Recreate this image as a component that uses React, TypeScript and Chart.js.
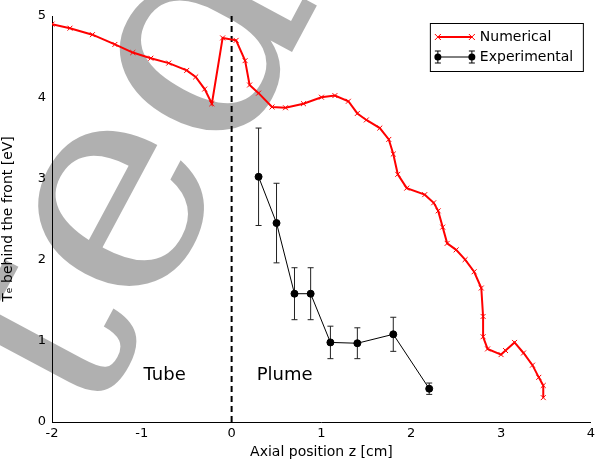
import React, { useEffect, useRef } from "react";
import { Chart, registerables } from "chart.js";
Chart.register(...registerables);

const numX = [-2, -1.8, -1.55, -1.3, -1.1, -0.9, -0.7, -0.5, -0.4, -0.3, -0.22, -0.1, 0.05, 0.15, 0.2, 0.3, 0.45, 0.6, 0.8, 1.0, 1.15, 1.3, 1.4, 1.5, 1.65, 1.75, 1.8, 1.85, 1.95, 2.15, 2.25, 2.3, 2.35, 2.4, 2.5, 2.6, 2.7, 2.78, 2.8, 2.8, 2.85, 3.0, 3.05, 3.15, 3.25, 3.35, 3.42, 3.47, 3.47];
const numY = [4.9, 4.85, 4.77, 4.65, 4.55, 4.48, 4.42, 4.33, 4.25, 4.1, 3.92, 4.73, 4.7, 4.45, 4.15, 4.05, 3.88, 3.87, 3.92, 4.0, 4.02, 3.95, 3.8, 3.72, 3.62, 3.48, 3.3, 3.05, 2.88, 2.8, 2.7, 2.6, 2.4, 2.2, 2.12, 2.0, 1.85, 1.65, 1.3, 1.05, 0.9, 0.83, 0.88, 0.98, 0.85, 0.7, 0.55, 0.45, 0.3];
const expX = [0.3, 0.5, 0.7, 0.88, 1.1, 1.4, 1.8, 2.2];
const expY = [3.02, 2.45, 1.58, 1.58, 0.98, 0.97, 1.08, 0.41];
const expErr = [0.6, 0.49, 0.32, 0.32, 0.2, 0.19, 0.21, 0.07];
const legendLabels = ["Numerical", "Experimental"];

const FONT = "'DejaVu Sans', sans-serif";

export default function App() {
  const ref = useRef<HTMLCanvasElement>(null);
  useEffect(() => {
    document.body.style.margin = "0";
    const extras = {
      id: "extras",
      beforeDraw(chart: any) {
        const { ctx } = chart;
        ctx.save();
        ctx.fillStyle = "rgba(150,150,150,0.75)";
        ctx.font = "300px 'DejaVu Serif', serif";
        ctx.translate(90, 430);
        ctx.rotate(-1.08);
        ctx.fillText("ted M", 0, 0);
        ctx.restore();
      },
      beforeDatasetsDraw(chart: any) {
        const { ctx, scales, chartArea } = chart;
        const x = scales.x, y = scales.y;
        ctx.save();
        ctx.strokeStyle = "#000";
        ctx.lineWidth = 2;
        ctx.setLineDash([6, 4]);
        ctx.beginPath();
        ctx.moveTo(x.getPixelForValue(0), chartArea.top);
        ctx.lineTo(x.getPixelForValue(0), chartArea.bottom);
        ctx.stroke();
        ctx.setLineDash([]);
        ctx.strokeStyle = "#222";
        ctx.lineWidth = 1;
        expX.forEach((xv, i) => {
          const px = x.getPixelForValue(xv);
          const t = y.getPixelForValue(expY[i] + expErr[i]);
          const b = y.getPixelForValue(expY[i] - expErr[i]);
          ctx.beginPath();
          ctx.moveTo(px, t); ctx.lineTo(px, b);
          ctx.moveTo(px - 3, t); ctx.lineTo(px + 3, t);
          ctx.moveTo(px - 3, b); ctx.lineTo(px + 3, b);
          ctx.stroke();
        });
        ctx.fillStyle = "#000";
        ctx.font = `18px ${FONT}`;
        ctx.textBaseline = "middle";
        ctx.fillText("Tube", x.getPixelForValue(-0.98), y.getPixelForValue(0.57));
        ctx.fillText("Plume", x.getPixelForValue(0.28), y.getPixelForValue(0.57));
        ctx.restore();
      },
      afterDatasetsDraw(chart: any) {
        const { ctx, chartArea } = chart;
        ctx.save();
        const bx = chartArea.right - 161, by = chartArea.top + 7, bw = 153, bh = 48;
        ctx.fillStyle = "#fff";
        ctx.strokeStyle = "#000";
        ctx.lineWidth = 1;
        ctx.fillRect(bx, by, bw, bh);
        ctx.strokeRect(bx + 0.5, by + 0.5, bw, bh);
        ctx.font = `14px ${FONT}`;
        ctx.textBaseline = "middle";
        ctx.fillStyle = "#000";
        let yy = by + 14;
        ctx.strokeStyle = "#f00"; ctx.lineWidth = 2;
        ctx.beginPath(); ctx.moveTo(bx + 8, yy); ctx.lineTo(bx + 42, yy); ctx.stroke();
        ctx.lineWidth = 1;
        [bx + 8, bx + 42].forEach((cx) => {
          ctx.beginPath();
          ctx.moveTo(cx - 3, yy - 3); ctx.lineTo(cx + 3, yy + 3);
          ctx.moveTo(cx - 3, yy + 3); ctx.lineTo(cx + 3, yy - 3);
          ctx.stroke();
        });
        ctx.fillText(legendLabels[0], bx + 50, yy);
        yy = by + 34;
        ctx.strokeStyle = "#000"; ctx.fillStyle = "#000";
        ctx.beginPath(); ctx.moveTo(bx + 8, yy); ctx.lineTo(bx + 42, yy); ctx.stroke();
        [bx + 8, bx + 42].forEach((cx) => {
          ctx.beginPath(); ctx.arc(cx, yy, 3.5, 0, Math.PI * 2); ctx.fill();
          ctx.beginPath();
          ctx.moveTo(cx, yy - 6); ctx.lineTo(cx, yy + 6);
          ctx.moveTo(cx - 3, yy - 6); ctx.lineTo(cx + 3, yy - 6);
          ctx.moveTo(cx - 3, yy + 6); ctx.lineTo(cx + 3, yy + 6);
          ctx.stroke();
        });
        ctx.fillText(legendLabels[1], bx + 50, yy);
        ctx.restore();
      },
    };
    const chart = new Chart(ref.current!, {
      type: "scatter",
      data: {
        datasets: [
          {
            label: "Numerical",
            data: numX.map((v, i) => ({ x: v, y: numY[i] })),
            showLine: true,
            borderColor: "#ff0000",
            backgroundColor: "#ff0000",
            borderWidth: 2,
            pointStyle: "crossRot",
            pointRadius: 3.5,
            pointBorderWidth: 1,
          },
          {
            label: "Experimental",
            data: expX.map((v, i) => ({ x: v, y: expY[i] })),
            showLine: true,
            borderColor: "#000",
            backgroundColor: "#000",
            borderWidth: 1,
            pointStyle: "circle",
            pointRadius: 3.5,
          },
        ],
      },
      options: {
        animation: false,
        responsive: false,
        layout: { padding: { right: 2, top: 16, left: 0, bottom: 0 } },
        plugins: { tooltip: { enabled: false }, legend: { display: false } },
        scales: {
          x: {
            type: "linear",
            min: -2, max: 4,
            afterFit: (s: any) => { s.height = 39; },
            ticks: { stepSize: 1, font: { family: FONT, size: 13 }, color: "#000", padding: 4 },
            grid: { display: false, drawTicks: false },
            border: { color: "#000" },
            title: { display: true, text: "Axial position z [cm]", font: { family: FONT, size: 14 }, color: "#000", padding: 0 },
          },
          y: {
            min: 0, max: 5,
            afterFit: (s: any) => { s.width = 52; },
            ticks: { stepSize: 1, font: { family: FONT, size: 13 }, color: "#000", padding: 6 },
            grid: { display: false, drawTicks: false },
            border: { color: "#000" },
            title: { display: true, text: "Tₑ behind the front [eV]", font: { family: FONT, size: 14 }, color: "#000", padding: { top: 0, bottom: 8 } },
          },
        },
      },
      plugins: [extras],
    });
    return () => chart.destroy();
  }, []);
  return <canvas ref={ref} width={599} height={461} />;
}
